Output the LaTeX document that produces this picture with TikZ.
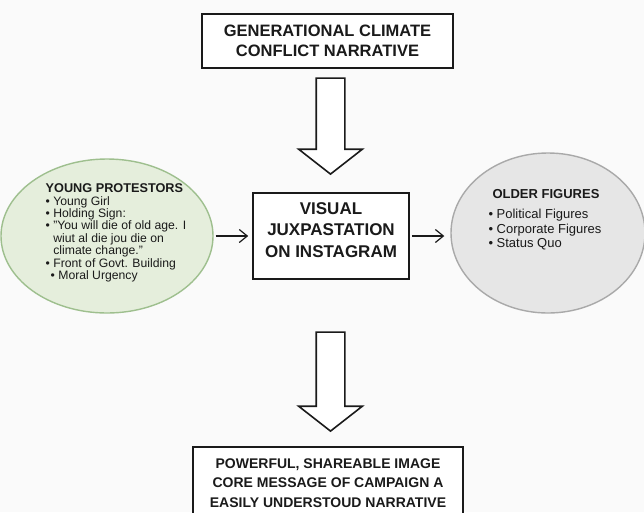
\documentclass[tikz,border=0pt]{standalone}
\usepackage{fontspec}
\setmainfont{Liberation Sans}
\usetikzlibrary{positioning, arrows.meta, shapes.geometric, shapes.arrows}
\definecolor{paper}{HTML}{FAFAFA}
\definecolor{ink}{HTML}{1A1A1A}
\definecolor{sage}{HTML}{9EBF8E}
\definecolor{lightsage}{HTML}{E5EEDC}
\definecolor{silver}{HTML}{A9A9A9}
\definecolor{lightsilver}{HTML}{E6E6E6}
\newcommand{\headA}{\bfseries\fontsize{16.5}{20}\selectfont}
\newcommand{\headB}{\bfseries\fontsize{17}{21.5}\selectfont}
\newcommand{\headC}{\bfseries\fontsize{14}{19.5}\selectfont}

\tikzset{
  box/.style={draw=ink, line width=1.6pt, fill=white, align=center, text=ink},
  bubble/.style={ellipse, line width=1.4pt},
  bigarrow/.style={single arrow, draw=ink, line width=1.6pt, fill=white,
    shape border rotate=270, minimum height=96pt,
    single arrow head extend=17.5pt, single arrow tip angle=104,
    single arrow head indent=0pt, inner sep=13.5pt},
  link/.style={-{Straight Barb[length=8pt,width=13pt]}, line width=1.2pt, draw=ink},
}

\begin{document}
\begin{tikzpicture}[x=1pt, y=-1pt]
  \fill[paper] (0,0) rectangle (644,512);
  \useasboundingbox (0,0) rectangle (644,512);

  % boxes
  \node[box, font=\headA, minimum width=251pt, minimum height=54pt]
    (narrative) at (327.5,41) {GENERATIONAL CLIMATE\\CONFLICT NARRATIVE};
  \node[box, font=\headB, minimum width=156pt, minimum height=86pt, text depth=12pt]
    (visual) at (331,236) {VISUAL\\JUXPASTATION\\ON INSTAGRAM};
  \node[box, font=\headC, minimum width=270pt, minimum height=72pt]
    (message) at (328,483) {POWERFUL, SHAREABLE IMAGE\\CORE MESSAGE OF CAMPAIGN A\\EASILY UNDERSTOUD NARRATIVE};

  % side groups
  \node[bubble, draw=sage, fill=lightsage, minimum width=212pt, minimum height=154pt]
    (young) at (107,236) {};
  \node[bubble, draw=silver, fill=lightsilver, minimum width=194pt, minimum height=160pt]
    (older) at (548,233) {};
  \node[align=left, text=ink, font=\fontsize{12.2}{12.4}\selectfont] (youngtext) at (116,233) {%
    \textbf{\fontsize{12.7}{12.4}\selectfont YOUNG PROTESTORS}\\
    \textbullet\ Young Girl\\
    \textbullet\ Holding Sign:\\
    \textbullet\ "You will die of old age. I\\
    \hphantom{\textbullet\ }wiut al die jou die on\\
    \hphantom{\textbullet\ }climate change."\\
    \textbullet\ Front of Govt. Building\\
    \hspace*{5pt}\textbullet\ Moral Urgency
  };
  \node[align=left, text=ink, font=\fontsize{13}{14.5}\selectfont] (oldertext) at (545,219.5) {%
    \hspace*{4pt}\textbf{OLDER FIGURES}\\[6pt]
    \textbullet\ Political Figures\\
    \textbullet\ Corporate Figures\\
    \textbullet\ Status Quo
  };

  % flow
  \node[bigarrow] (flowin) at (330.5,120.5) {};
  \node[bigarrow, minimum height=99pt] (flowout) at (330.5,376) {};
  \draw[link, shorten <=2pt, shorten >=4pt] (young.east |- visual.west) -- (visual.west);
  \draw[link, shorten <=2pt, shorten >=6pt] (visual.east) -- (visual.east -| older.west);
\end{tikzpicture}
\end{document}
